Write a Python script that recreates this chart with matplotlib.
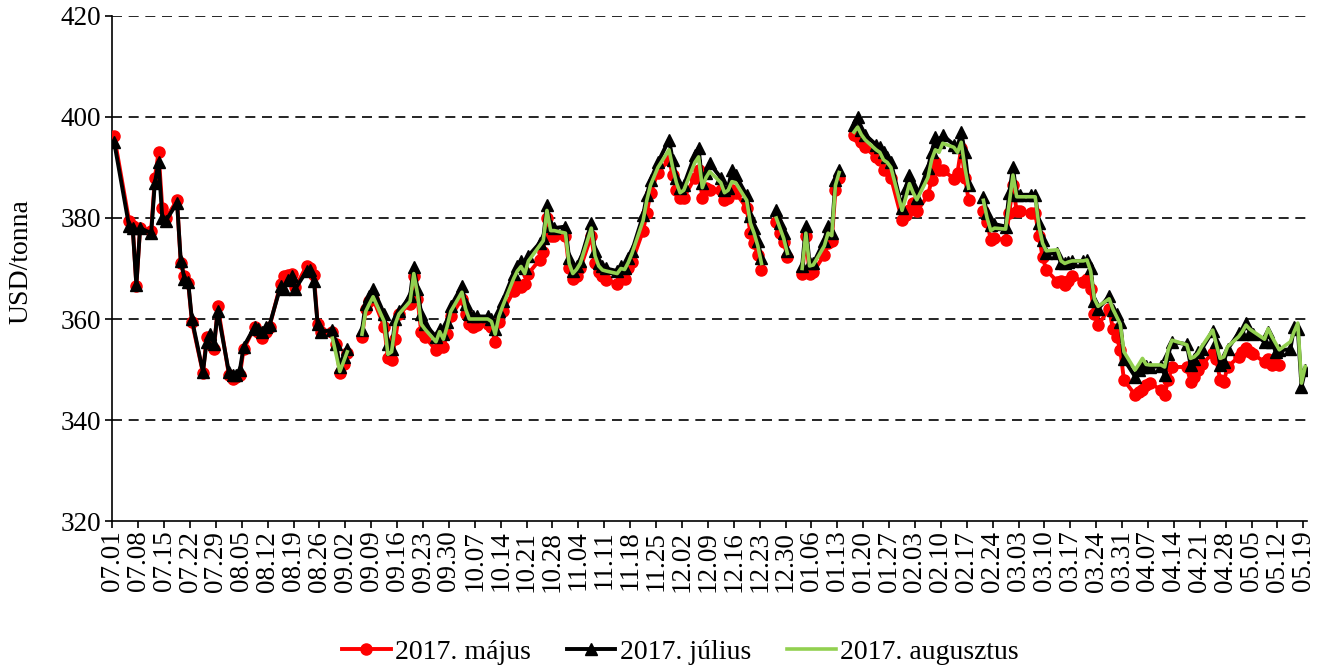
import numpy as np
import pandas as pd
import matplotlib
matplotlib.use('Agg')
import matplotlib.pyplot as plt

nan = np.nan

# kereskedési napok (hétköznapok); a vonalat meg nem szakító ünnepek kihagyva
napok = pd.bdate_range('2016-07-01', '2017-05-19')
napok = napok.drop(pd.to_datetime(['2016-07-04', '2016-11-24', '2017-04-14']))

tick_labels = ['07.01', '07.08', '07.15', '07.22', '07.29', '08.05', '08.12', '08.19',
               '08.26', '09.02', '09.09', '09.16', '09.23', '09.30', '10.07', '10.14',
               '10.21', '10.28', '11.04', '11.11', '11.18', '11.25', '12.02', '12.09',
               '12.16', '12.23', '12.30', '01.06', '01.13', '01.20', '01.27', '02.03',
               '02.10', '02.17', '02.24', '03.03', '03.10', '03.17', '03.24', '03.31',
               '04.07', '04.14', '04.21', '04.28', '05.05', '05.12', '05.19']

# 2017. május (hetenként H-P)
majus = [396.2,
         379.5, 378.5, 366.5, 378,
         377.5, 388, 393, 382, 380,
         383.5, 371, 368.5, 367.2, 359.5,
         349.3, 356.5, 355, 354, 362.5,
         349, 348.2, 348.5, 349, 354,
         358.5, 357.5, 356.2, 357.5, 358.5,
         367, 368.5, 368.8, 369, 366.3,
         370.5, 370, 368.7, 359, 357.5,
         357.5, 355, 349.3, 351, 353.3,
         nan, 356.5, 362, 363.5, 364,
         358.5, 352.2, 351.9, 356, 361,
         363, 368.5, 364, 357.5, 356.5,
         353.8, 355, 354.5, 357, 360.5,
         364, 361, 359, 358.5, 358.8,
         359, 358.5, 355.5, 359.5, 361.5,
         365.5, 366.5, 366.4, 367, 369,
         371.7, 373.3, 380, 376.5, 376.5,
         376.5, 370, 368, 368.5, 370,
         376.5, 371, 369.4, 368.5, 367.7,
         367, 368.7, 368, 370, 371.3,
         377.5, 381, 385, 389,
         391.5, 388.5, 385.5, 384, 384,
         388, 389.5, 384, 386, 385.5,
         385.5, 383.6, 384, 385.5, 385,
         382, 377, 375, 372.7, 369.7,
         nan, 379.3, 377, 375.3, 372.3,
         nan, 369, 376.5, 369, 369.3,
         372.7, 375, 375.5, 385.5, 388,
         nan, 396.5, 396, 395, 394,
         392, 391.5, 389.5, 389.5, 388,
         379.6, 380.5, 381.5, 383, 381.3,
         384.5, 387.5, 391, 389.5, 389.5,
         387.8, 389, 393.8, 388, 383.6,
         nan, 381.3, 379.3, 375.6, 376,
         375.6, 381, 386.5, 381.3, 381.3,
         381, 381, 376.5, 372.3, 369.7,
         367.4, 367.5, 366.7, 367.5, 368.5,
         367.4, 368, 366, 361, 358.8,
         362, 358.1, 356.5, 353.9, 347.9,
         345, 345.5, 346, 347, 347.3,
         346, 345, 348, 350.5,
         350.5, 347.6, 348.5, 350, 351,
         353.2, 352, 347.9, 347.6, 350.5,
         352.5, 353.5, 354.2, 353.5, 353,
         351.5, 352, 350.9, 351, 350.8,
         nan, nan, nan, nan, nan]

# 2017. július
julius = [395,
          378.5, 378, 366.7, 378,
          377, 387, 391, 380, 379.5,
          383, 371.5, 368, 367.4, 360,
          349.5, 355.5, 357, 355, 361.5,
          349.5, 349, 349, 350, 354.5,
          358.5, 358, 357.5, 358.5, 358.8,
          366.5, 366, 367.8, 368.5, 366,
          369.5, 369.8, 367.5, 359, 357.5,
          357.8, 355, 350.5, 352.5, 354,
          nan, 357.8, 363, 364.5, 366,
          361, 355, 354, 360, 361.5,
          364.5, 370.3, 366, 361, 359,
          356.5, 358, 357, 359.5, 362.5,
          366.5, 363, 361, 360.5, 360.5,
          360.5, 360, 358, 361.5, 363.5,
          369, 370.5, 371.5, 370, 372.5,
          375, 376, 382.5, 378.5, 378,
          378.3, 372, 369.5, 370.5, 371.5,
          379, 373.5, 371, 370.5, 370,
          369.5, 370.5, 370, 372, 373.5,
          380.5, 384.5, 387.5, 391,
          395.5, 391.5, 388, 386, 386.5,
          392.5, 393.8, 387, 389, 390.8,
          388, 385.5, 386, 389.5, 388.5,
          384.5, 380.3, 378, 375.5, 372,
          nan, 381.6, 379, 377, 373.5,
          nan, 370.5, 378.5, 371, 371,
          375.5, 378.5, 377, 387.5, 389.5,
          nan, 398.5, 400, 397.5, 396.5,
          394.5, 394, 393, 392, 391,
          382, 386, 388.5, 386.5, 384,
          389.8, 393, 396, 395, 396.4,
          394.5, 394, 397, 393, 386.5,
          nan, 384.2, 381, 378.6, 378.8,
          378.3, 385, 390, 384.5, 384.6,
          384.6, 384.6, 379, 375.6, 373,
          373, 371, 371, 371.3, 371.5,
          371.5, 371.7, 370, 363.5, 362,
          364.5, 361.8, 361, 359.5, 352,
          348.6, 350, 350.5, 350.6, 350.5,
          350.6, 349, 353, 355.5,
          355, 350.9, 352, 353.5, 354,
          357.6, 355.5, 350.9, 351.5, 354,
          357.2, 357, 359.2, 357.5, 357,
          355.5, 357.4, 355.5, 353.5, 353.8,
          354, 358.5, 358, 346.6, 349.9]

# 2017. augusztus (csak augusztus végétől)
augusztus = [nan] * 40 + [
             356.2, 353, 349.6, 351.5, 353.5,
             nan, 357, 361.5, 363, 364.4,
             359.5, 353, 353.5, 359, 361,
             363.5, 369, 365, 359, 358,
             355.5, 357.5, 356, 358.5, 361.5,
             365.3, 362, 360, 360, 360,
             360, 359.5, 357, 360.5, 362.5,
             368, 369.5, 370.4, 369, 371.5,
             374.5, 375.5, 381.5, 377.5, 377.5,
             377, 371, 369, 369.8, 371,
             378, 372.5, 370.5, 369.7, 369.5,
             369, 370, 369.8, 371.2, 373,
             379.5, 383.5, 386.5, 390,
             393.5, 390, 387, 385, 385.5,
             391, 392.1, 386, 388, 389.2,
             387, 385, 385.5, 387.2, 387,
             383.5, 379, 377, 374.5, 371,
             nan, 380, 378, 376, 373,
             nan, 370, 377, 370.5, 370.7,
             374.5, 377, 376.5, 386.5, 389,
             nan, 397, 398, 396.5, 395.5,
             393.5, 393, 391.5, 391, 390,
             381.5, 384, 386.8, 385, 383.6,
             388, 391.5, 393.5, 393, 394.8,
             394, 393, 395, 390, 385.9,
             nan, 383.5, 380, 377.5, 378,
             377.8, 383, 388.5, 384.2, 384.2,
             384.2, 384.2, 378.5, 375, 373.5,
             373.7, 371.5, 371, 371.3, 371.5,
             371.5, 371.7, 369.5, 364, 362.5,
             364, 362, 360.5, 359, 353.5,
             349.9, 351, 352.2, 351, 350.9,
             350.9, 350.5, 354, 355.8,
             354.9, 352.2, 352.5, 353.2, 354.5,
             357.8, 354.9, 352.2, 352.5, 354.5,
             356.5, 357.5, 358.8, 358, 357.5,
             356, 358.1, 356.5, 355.2, 353.9,
             355.5, 357.5, 359.2, 347.3, 350.6]

start = pd.Timestamp('2016-07-01')
x = np.array((napok - start).days) + 0.5

plt.rcParams['font.family'] = ['Liberation Serif', 'DejaVu Serif']

fig = plt.figure(figsize=(13.31, 6.65), dpi=100)
ax = fig.add_axes([0.0844, 0.2165, 0.8976, 0.7595])

ax.plot(x, majus, color='#ff0000', marker='o', markersize=8, linewidth=2.8,
        label='2017. május', zorder=3)
ax.plot(x, julius, color='black', marker='^', markersize=8, linewidth=2.8,
        label='2017. július', zorder=4)
ax.plot(x, augusztus, color='#92d050', linewidth=2.6,
        label='2017. augusztus', zorder=5)

ax.set_ylim(320, 420)
ax.set_yticks(range(320, 421, 20))
ax.set_xlim(0, 323)
ax.set_xticks(np.arange(0, 323, 7))
ax.set_xticklabels(tick_labels, rotation=90)
ax.tick_params(axis='both', labelsize=19.5, direction='out', length=5, width=1.2, colors='black')
ax.tick_params(axis='x', pad=2)
ax.tick_params(axis='y', pad=3)

for v in range(340, 421, 20):
    ax.axhline(v, color='black', linewidth=1.2, linestyle=(0, (6, 4)), zorder=1)

ax.spines['top'].set_visible(False)
ax.spines['right'].set_visible(False)
ax.spines['left'].set_linewidth(1.2)
ax.spines['bottom'].set_linewidth(1.2)

fig.text(0.016, 1 - 262 / 665, 'USD/tonna', rotation=90, fontsize=20,
         ha='center', va='center')

fig.legend(loc='center', bbox_to_anchor=(0.511, 1 - 652 / 665), ncol=3, frameon=False,
           fontsize=20, handlelength=1.75, columnspacing=1.3, handletextpad=0.15,
           borderpad=0, borderaxespad=0)

fig.savefig('out.png', dpi=100)
